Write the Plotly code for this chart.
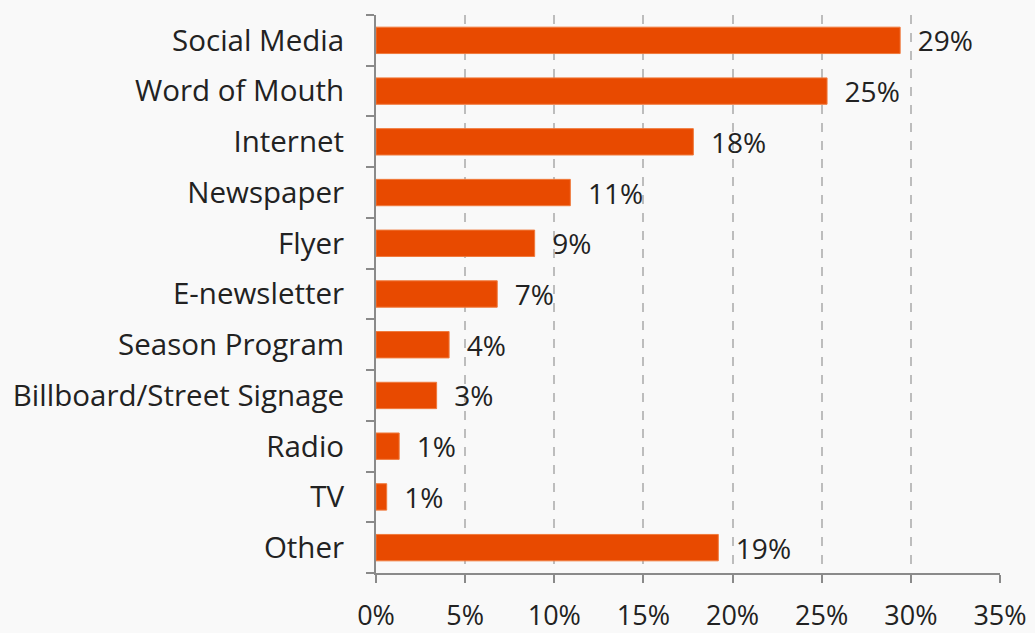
import plotly.graph_objects as go

# Survey: how respondents heard about the season
channels = [
    "Social Media", "Word of Mouth", "Internet", "Newspaper", "Flyer",
    "E-newsletter", "Season Program", "Billboard/Street Signage", "Radio",
    "TV", "Other",
]
shares = [0.294, 0.253, 0.178, 0.109, 0.089, 0.068, 0.041, 0.034, 0.013, 0.006, 0.192]
x_ticks = [0, 0.05, 0.10, 0.15, 0.20, 0.25, 0.30, 0.35]

BAR = "#E84A00"
TEXT = "#222222"
AXIS = "#8a8a8a"
FONT = "Open Sans, Noto Sans, DejaVu Sans, sans-serif"

fig = go.Figure(
    go.Bar(
        x=shares,
        y=channels,
        orientation="h",
        width=0.52,
        marker=dict(color=BAR, line=dict(color="#F07A3C", width=1)),
        texttemplate="  %{x:.0%}",
        textposition="outside",
        constraintext="none",
        textfont=dict(size=28, color=TEXT, family=FONT),
        cliponaxis=False,
        hoverinfo="skip",
    )
)

fig.update_layout(
    width=1035,
    height=633,
    margin=dict(l=376, r=35, t=15, b=60),
    paper_bgcolor="#F9F9F9",
    plot_bgcolor="#F9F9F9",
    font=dict(family=FONT, size=28, color=TEXT),
    showlegend=False,
    bargap=0.48,
)

fig.update_xaxes(
    range=[0, 0.35],
    tickvals=x_ticks,
    tickformat=".0%",
    showgrid=True,
    gridcolor="#BDBDBD",
    gridwidth=1.5,
    griddash="dash",
    zeroline=False,
    showline=True,
    linecolor=AXIS,
    linewidth=2,
    ticks="outside",
    ticklen=8,
    tickwidth=2,
    tickcolor=AXIS,
    tickfont=dict(size=27, color=TEXT),
    ticklabelstandoff=10,
    automargin=False,
)

fig.update_yaxes(
    categoryorder="array",
    categoryarray=channels[::-1],
    autorange=False,
    range=[-0.5, len(channels) - 0.5],
    showgrid=False,
    showline=True,
    linecolor=AXIS,
    linewidth=2,
    ticks="outside",
    tickson="boundaries",
    ticklen=8,
    tickwidth=2,
    tickcolor=AXIS,
    tickfont=dict(size=29.5, color=TEXT),
    ticklabelstandoff=24,
    automargin=False,
)

fig.write_html("out.html")
